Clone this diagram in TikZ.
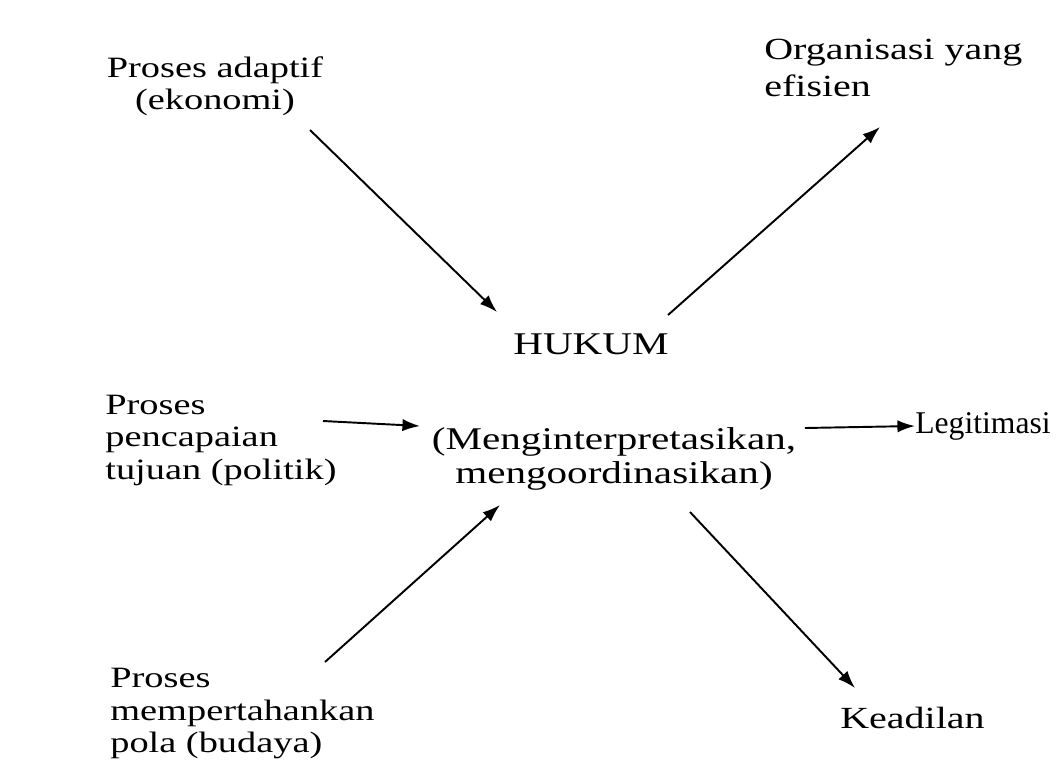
\documentclass[tikz,border=0pt]{standalone}
\usepackage{fontspec}
\setmainfont[FakeStretch=1.3]{Liberation Serif}
\newfontfamily\polos{Liberation Serif}
\usetikzlibrary{arrows.meta}
\tikzset{
  lbl/.style={inner sep=0pt, font=\fontsize{16.8}{18.5}\selectfont},
  lblc/.style={lbl, align=center},
  lbll/.style={lbl, align=left},
  lblr/.style={inner sep=0pt, align=left, font=\fontsize{17.5}{21.5}\selectfont},
  arr/.style={-{Latex[length=10pt,width=7pt]}, line width=1.1pt},
}
\begin{document}
\begin{tikzpicture}[x=0.02cm,y=-0.02cm]
  \useasboundingbox (0,0) rectangle (1063,772);
  % teks di sekeliling
  \node[lblc] (ekonomi) at (215,86) {Proses adaptif\\(ekonomi)};
  \node[lblr,anchor=west] (efisien) at (764,68) {Organisasi yang\\efisien};
  \node[lbll,anchor=west] (politik) at (105,440) {Proses\\pencapaian\\tujuan (politik)};
  \node[lblr,anchor=west,font=\polos\fontsize{18}{20}\selectfont] (legitimasi) at (915,426) {Legitimasi};
  \node[lbll,anchor=west] (budaya) at (110,714) {Proses\\mempertahankan\\pola (budaya)};
  \node[lblr,anchor=west] (keadilan) at (840,718) {Keadilan};
  % pusat
  \node[lbl,font=\fontsize{18}{20}\selectfont] (hukum) at (591,344) {HUKUM};
  \node[lblc,font=\fontsize{18}{19.5}\selectfont] (fungsi) at (614,459) {(Menginterpretasikan,\\mengoordinasikan)};
  % titik ujung panah
  \coordinate (a1) at (310,130);  \coordinate (a2) at (497,312);
  \coordinate (b1) at (668,315);  \coordinate (b2) at (880,127);
  \coordinate (c1) at (323,421);  \coordinate (c2) at (420,426);
  \coordinate (d1) at (805,428);
  \coordinate (e1) at (325,662);  \coordinate (e2) at (500,505);
  \coordinate (f1) at (690,512);  \coordinate (f2) at (855,688);
  % panah
  \draw[arr] (a1) -- (a2);
  \draw[arr] (b1) -- (b2);
  \draw[arr] (c1) -- (c2);
  \draw[arr] (d1) -- (legitimasi.west);
  \draw[arr] (e1) -- (e2);
  \draw[arr] (f1) -- (f2);
\end{tikzpicture}
\end{document}
